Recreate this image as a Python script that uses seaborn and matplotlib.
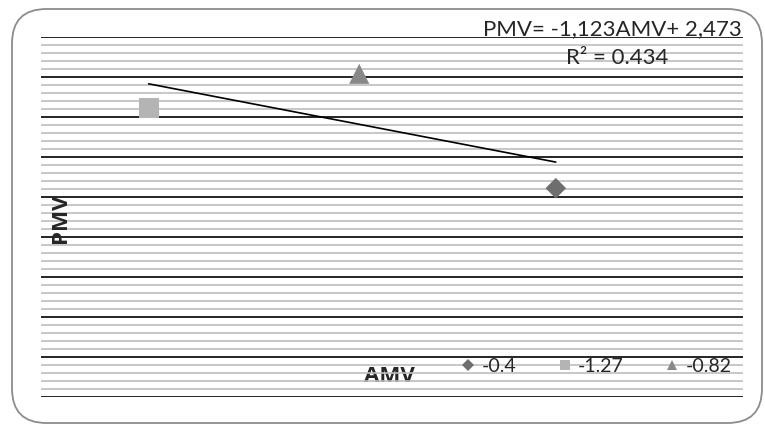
import numpy as np
import pandas as pd
import matplotlib
matplotlib.use("Agg")
import matplotlib.pyplot as plt
import seaborn as sns
from matplotlib.lines import Line2D
from matplotlib.patches import FancyBboxPatch
from matplotlib.ticker import MultipleLocator

# Data
series = ["-0.4", "-1.27", "-0.82"]
amv = [-0.4, -1.27, -0.82]
pmv = [2.61, 3.61, 4.04]
colors = ["#6e6e6e", "#b4b4b4", "#888888"]
markers = ["D", "s", "^"]
marker_sizes = [110, 210, 210]
eq_text = "PMV= -1,123AMV+ 2,473"
r2_text = "R² = 0.434"

df = pd.DataFrame({"AMV": amv, "PMV": pmv, "series": series})

sns.set_theme(style="white")
plt.rcParams["font.family"] = ["Lato", "DejaVu Sans"]

W, H = 765, 425
fig = plt.figure(figsize=(W / 100, H / 100), dpi=100)
ax = fig.add_axes([41 / W, 1 - 397 / H, 702 / W, 360 / H])

# outer rounded border
border = FancyBboxPatch((12 / W, 2 / H), 750 / W, 414 / H,
                        boxstyle="round,pad=0,rounding_size=0.045",
                        transform=fig.transFigure, facecolor="none",
                        edgecolor="#8c8c8c", linewidth=1.3, zorder=0,
                        mutation_aspect=W / H)
fig.patches.append(border)

ax.set_xlim(-1.5, 0)
ax.set_ylim(0, 4.5)
ax.yaxis.set_major_locator(MultipleLocator(0.5))
ax.yaxis.set_minor_locator(MultipleLocator(0.1))
ax.grid(which="major", axis="y", color="black", linewidth=1.2, zorder=0)
ax.grid(which="minor", axis="y", color="#bdbdbd", linewidth=1.2, zorder=0)
ax.grid(False, axis="x", which="both")
ax.set_axisbelow(True)
for s in ax.spines.values():
    s.set_visible(False)
ax.tick_params(which="both", left=False, bottom=False, labelleft=False, labelbottom=False)

sns.regplot(data=df, x="AMV", y="PMV", scatter=False, ci=None, truncate=True,
            color="black", line_kws={"linewidth": 1.2}, ax=ax)

sns.scatterplot(data=df, x="AMV", y="PMV", hue="series", style="series", size="series",
                hue_order=series, style_order=series, size_order=series,
                palette=dict(zip(series, colors)),
                markers=dict(zip(series, markers)),
                sizes=dict(zip(series, marker_sizes)),
                linewidth=0, legend=False, ax=ax, zorder=3)

label_font = dict(fontsize=16, fontweight="bold", family=["Open Sans", "DejaVu Sans"])
ax.set_xlabel("AMV", **label_font)
ax.set_ylabel("PMV", **label_font)
ax.xaxis.set_label_coords(0.497, 0.085)
ax.yaxis.set_label_coords(0.043, 0.497)

handles = [Line2D([], [], linestyle="none", marker=m, color=c, markersize=7 if m != "D" else 6,
                  markeredgewidth=0) for m, c in zip(markers, colors)]
leg = ax.legend(handles, series, ncol=3, frameon=False, fontsize=14,
                loc="center", bbox_to_anchor=((596 - 41) / 702, (397 - 366) / 360),
                handlelength=0.8, handletextpad=0.3, columnspacing=2.1)

fig.text(742 / W, 1 - 29 / H, eq_text, ha="right", va="center", fontsize=16)
fig.text(617 / W, 1 - 58 / H, r2_text, ha="center", va="center", fontsize=16)

fig.savefig("out.png", dpi=100)
